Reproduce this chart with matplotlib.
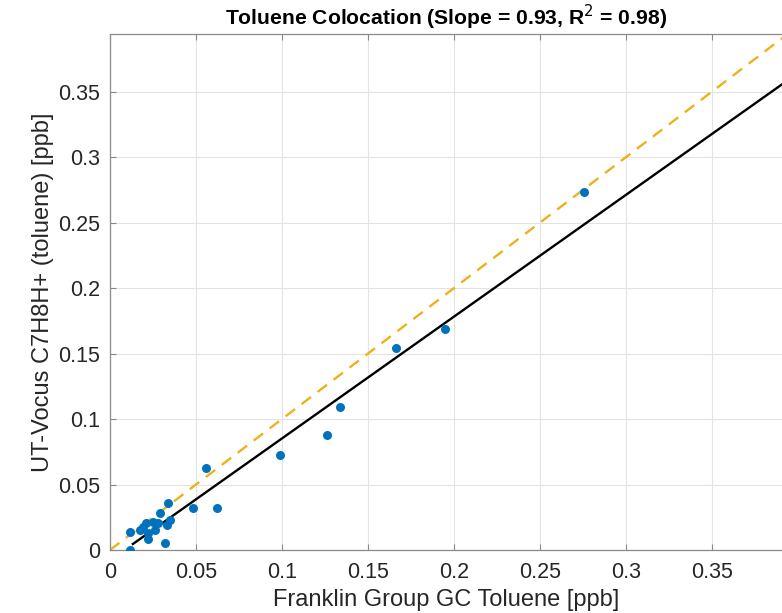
import matplotlib
matplotlib.use("Agg")
import matplotlib.pyplot as plt
import numpy as np

plt.rcParams['font.family'] = ['Liberation Sans', 'DejaVu Sans']

# Data
gc_toluene = [0.2755, 0.195, 0.166, 0.134, 0.126, 0.099, 0.0556, 0.062, 0.048,
              0.0336, 0.029, 0.025, 0.021, 0.019, 0.0116, 0.033, 0.0347, 0.028,
              0.022, 0.022, 0.032, 0.0116, 0.0174, 0.026]
vocus_toluene = [0.273, 0.169, 0.154, 0.109, 0.0877, 0.0724, 0.0625, 0.032, 0.032,
                 0.0358, 0.028, 0.021, 0.0205, 0.0175, 0.0137, 0.019, 0.0229, 0.0206,
                 0.013, 0.0084, 0.0053, 0.0, 0.015, 0.015]
slope = 0.93
intercept = -0.0078
x_ticks = [0, 0.05, 0.1, 0.15, 0.2, 0.25, 0.3, 0.35]
x_tick_labels = ['0', '0.05', '0.1', '0.15', '0.2', '0.25', '0.3', '0.35']
y_ticks = [0, 0.05, 0.1, 0.15, 0.2, 0.25, 0.3, 0.35]
y_tick_labels = ['0', '0.05', '0.1', '0.15', '0.2', '0.25', '0.3', '0.35']

fig = plt.figure(figsize=(7.82, 6.13), dpi=100)
ax = fig.add_axes([110/782, 63/613, 672/782, 516/613])

xlim = (0, 0.3907)
ylim = (0, 0.394)

ax.grid(True, color='#e3e3e3', linewidth=0.8, zorder=0)
ax.set_axisbelow(True)

# 1:1 line
one = np.array([0, 0.42])
ax.plot(one, one, linestyle=(0, (5, 3.5)), color='#EDB120', linewidth=1.7, zorder=2)
# fit line
fx = np.array([min(gc_toluene) + 0.0017, 0.42])
ax.plot(fx, slope * fx + intercept, color='black', linewidth=1.7, zorder=3)

ax.scatter(gc_toluene, vocus_toluene, s=42, color='#0072BD', zorder=4, linewidths=0)

ax.set_xlim(*xlim)
ax.set_ylim(*ylim)
ax.set_xticks(x_ticks)
ax.set_xticklabels(x_tick_labels)
ax.set_yticks(y_ticks)
ax.set_yticklabels(y_tick_labels)

for s in ['left', 'bottom', 'top']:
    ax.spines[s].set_color('#8a8a8a')
    ax.spines[s].set_linewidth(0.9)
ax.spines['right'].set_visible(False)

ax.tick_params(axis='both', direction='in', length=4, width=0.8, color='#8a8a8a',
               labelsize=15.5, labelcolor='#262626', top=True)
ax.tick_params(axis='x', pad=9)
ax.tick_params(axis='y', pad=7)

ax.set_xlabel('Franklin Group GC Toluene [ppb]', fontsize=17, color='#262626', labelpad=4)
ax.set_ylabel('UT-Vocus C7H8H+ (toluene) [ppb]', fontsize=17, color='#262626', labelpad=3)
ax.set_title('Toluene Colocation (Slope = 0.93, R$^2$ = 0.98)', fontsize=15.2,
             fontweight='bold', color='black', pad=6)

fig.savefig('out.png', dpi=100)
